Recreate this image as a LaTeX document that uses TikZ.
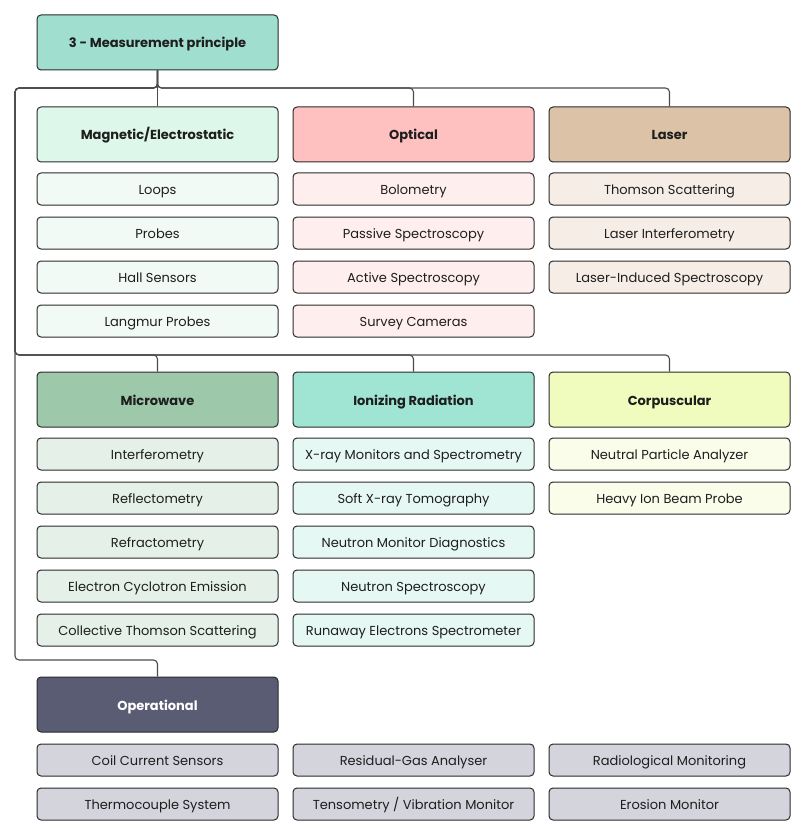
\documentclass[tikz,border=0pt]{standalone}
\usepackage{fontspec}
\setmainfont{Poppins}
\definecolor{rootc}{HTML}{A0DECF}
\definecolor{magh}{HTML}{DDF7EA}
\definecolor{magi}{HTML}{F2FAF6}
\definecolor{opth}{HTML}{FFC0C0}
\definecolor{opti}{HTML}{FFEEEE}
\definecolor{lash}{HTML}{DCC2A6}
\definecolor{lasi}{HTML}{F5EDE6}
\definecolor{mich}{HTML}{9DC8A9}
\definecolor{mici}{HTML}{E4F0E8}
\definecolor{ionh}{HTML}{A0E4D3}
\definecolor{ioni}{HTML}{E6F8F3}
\definecolor{corh}{HTML}{EFFCBE}
\definecolor{cori}{HTML}{FAFDEA}
\definecolor{oph}{HTML}{595C73}
\definecolor{opi}{HTML}{D4D4DC}
\definecolor{edge}{HTML}{2B2B2B}
\definecolor{txt}{HTML}{1E1E1E}
\begin{document}
\begin{tikzpicture}[x=1pt,y=-1pt,
  box/.style={draw=edge, line width=1pt, rounded corners=4pt, minimum width=241pt, inner sep=0pt, text=txt, text height=11.5pt, text depth=0.5pt},
  hdr/.style={box, minimum height=55pt, font=\fontsize{13}{15}\selectfont\bfseries},
  item/.style={box, minimum height=32pt, font=\fontsize{13}{15}\selectfont},
  conn/.style={draw=edge!85, line width=1.1pt, rounded corners=4pt}]
\useasboundingbox (0,0) rectangle (800,829);
% root
\node[hdr, fill=rootc] (root) at (157.5,42.5) {3 - Measurement principle};
% row 1 headers
\node[hdr, fill=magh] (mag) at (157.5,134.5) {Magnetic/Electrostatic};
\node[hdr, fill=opth] (opt) at (413.5,134.5) {Optical};
\node[hdr, fill=lash] (las) at (669.5,134.5) {Laser};
% row 1 items
\node[item, fill=magi] (m1) at (157.5,189) {Loops};
\node[item, fill=magi] (m2) at (157.5,233) {Probes};
\node[item, fill=magi] (m3) at (157.5,277) {Hall Sensors};
\node[item, fill=magi] (m4) at (157.5,321) {Langmur Probes};
\node[item, fill=opti] (o1) at (413.5,189) {Bolometry};
\node[item, fill=opti] (o2) at (413.5,233) {Passive Spectroscopy};
\node[item, fill=opti] (o3) at (413.5,277) {Active Spectroscopy};
\node[item, fill=opti] (o4) at (413.5,321) {Survey Cameras};
\node[item, fill=lasi] (l1) at (669.5,189) {Thomson Scattering};
\node[item, fill=lasi] (l2) at (669.5,233) {Laser Interferometry};
\node[item, fill=lasi] (l3) at (669.5,277) {Laser-Induced Spectroscopy};
% row 2 headers
\node[hdr, fill=mich] (mic) at (157.5,399.5) {Microwave};
\node[hdr, fill=ionh] (ion) at (413.5,399.5) {Ionizing Radiation};
\node[hdr, fill=corh] (cor) at (669.5,399.5) {Corpuscular};
% row 2 items
\node[item, fill=mici] (w1) at (157.5,454) {Interferometry};
\node[item, fill=mici] (w2) at (157.5,498) {Reflectometry};
\node[item, fill=mici] (w3) at (157.5,542) {Refractometry};
\node[item, fill=mici] (w4) at (157.5,586) {Electron Cyclotron Emission};
\node[item, fill=mici] (w5) at (157.5,630) {Collective Thomson Scattering};
\node[item, fill=ioni] (i1) at (413.5,454) {X-ray Monitors and Spectrometry};
\node[item, fill=ioni] (i2) at (413.5,498) {Soft X-ray Tomography};
\node[item, fill=ioni] (i3) at (413.5,542) {Neutron Monitor Diagnostics};
\node[item, fill=ioni] (i4) at (413.5,586) {Neutron Spectroscopy};
\node[item, fill=ioni] (i5) at (413.5,630) {Runaway Electrons Spectrometer};
\node[item, fill=cori] (c1) at (669.5,454) {Neutral Particle Analyzer};
\node[item, fill=cori] (c2) at (669.5,498) {Heavy Ion Beam Probe};
% operational
\node[hdr, fill=oph, text=white] (ops) at (157.5,704.5) {Operational};
\node[item, fill=opi] (p1) at (157.5,760) {Coil Current Sensors};
\node[item, fill=opi] (p2) at (157.5,804) {Thermocouple System};
\node[item, fill=opi] (p3) at (413.5,760) {Residual-Gas Analyser};
\node[item, fill=opi] (p4) at (413.5,804) {Tensometry / Vibration Monitor};
\node[item, fill=opi] (p5) at (669.5,760) {Radiological Monitoring};
\node[item, fill=opi] (p6) at (669.5,804) {Erosion Monitor};
% connectors
\coordinate (j1) at (157.5,88);
\coordinate (L1) at (15,355);
\coordinate (L2) at (15,660);
\draw[conn] (root.south) -- (mag.north);
\draw[conn] (root.south) -- (j1) -| (opt.north);
\draw[conn] (root.south) -- (j1) -| (las.north);
\draw[conn] (root.south) -- (j1) -| (L1) -| (mic.north);
\draw[conn] (root.south) -- (j1) -| (L1) -| (ion.north);
\draw[conn] (root.south) -- (j1) -| (L1) -| (cor.north);
\draw[conn] (root.south) -- (j1) -| (L2) -| (ops.north);
\end{tikzpicture}
\end{document}
